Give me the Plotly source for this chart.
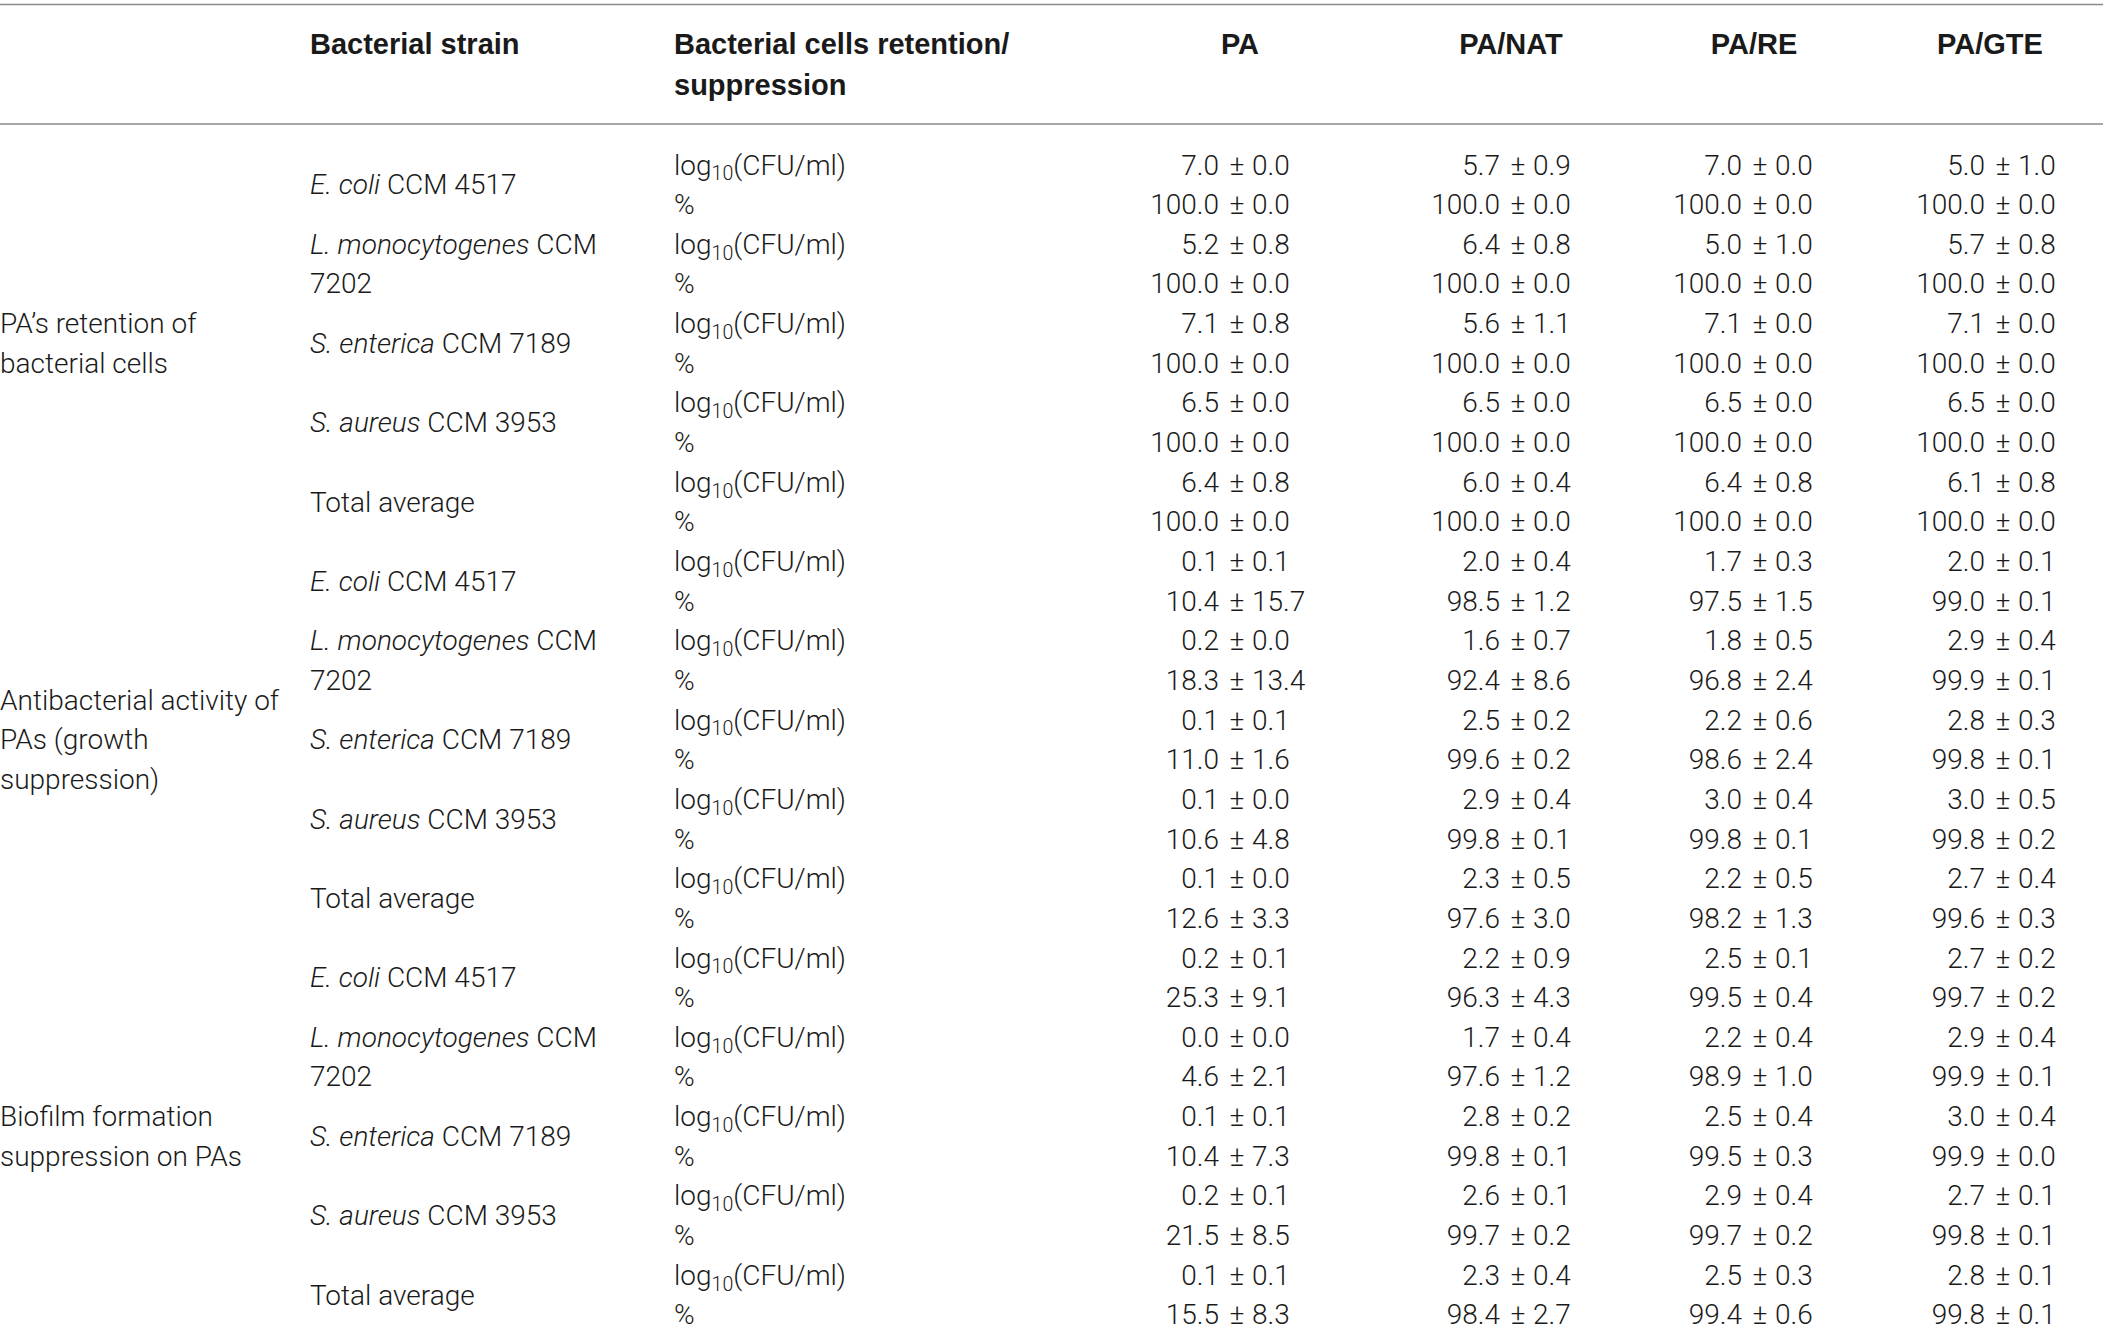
import plotly.graph_objects as go

# ---------------- data ----------------
columns = ["PA", "PA/NAT", "PA/RE", "PA/GTE"]
header_strain = "Bacterial strain"
header_unit = "Bacterial cells retention/\nsuppression"

groups = [
    "PA’s retention of\nbacterial cells",
    "Antibacterial activity of\nPAs (growth\nsuppression)",
    "Biofilm formation\nsuppression on PAs",
]
strains = [
    "<i>E. coli</i> CCM 4517",
    "<i>L. monocytogenes</i> CCM\n7202",
    "<i>S. enterica</i> CCM 7189",
    "<i>S. aureus</i> CCM 3953",
    "Total average",
]
units = ["log<sub>10</sub>(CFU/ml)", "%"]

pa_mean = [7.0, 100.0, 5.2, 100.0, 7.1, 100.0, 6.5, 100.0, 6.4, 100.0,
           0.1, 10.4, 0.2, 18.3, 0.1, 11.0, 0.1, 10.6, 0.1, 12.6,
           0.2, 25.3, 0.0, 4.6, 0.1, 10.4, 0.2, 21.5, 0.1, 15.5]
pa_sd = [0.0, 0.0, 0.8, 0.0, 0.8, 0.0, 0.0, 0.0, 0.8, 0.0,
         0.1, 15.7, 0.0, 13.4, 0.1, 1.6, 0.0, 4.8, 0.0, 3.3,
         0.1, 9.1, 0.0, 2.1, 0.1, 7.3, 0.1, 8.5, 0.1, 8.3]

nat_mean = [5.7, 100.0, 6.4, 100.0, 5.6, 100.0, 6.5, 100.0, 6.0, 100.0,
            2.0, 98.5, 1.6, 92.4, 2.5, 99.6, 2.9, 99.8, 2.3, 97.6,
            2.2, 96.3, 1.7, 97.6, 2.8, 99.8, 2.6, 99.7, 2.3, 98.4]
nat_sd = [0.9, 0.0, 0.8, 0.0, 1.1, 0.0, 0.0, 0.0, 0.4, 0.0,
          0.4, 1.2, 0.7, 8.6, 0.2, 0.2, 0.4, 0.1, 0.5, 3.0,
          0.9, 4.3, 0.4, 1.2, 0.2, 0.1, 0.1, 0.2, 0.4, 2.7]

re_mean = [7.0, 100.0, 5.0, 100.0, 7.1, 100.0, 6.5, 100.0, 6.4, 100.0,
           1.7, 97.5, 1.8, 96.8, 2.2, 98.6, 3.0, 99.8, 2.2, 98.2,
           2.5, 99.5, 2.2, 98.9, 2.5, 99.5, 2.9, 99.7, 2.5, 99.4]
re_sd = [0.0, 0.0, 1.0, 0.0, 0.0, 0.0, 0.0, 0.0, 0.8, 0.0,
         0.3, 1.5, 0.5, 2.4, 0.6, 2.4, 0.4, 0.1, 0.5, 1.3,
         0.1, 0.4, 0.4, 1.0, 0.4, 0.3, 0.4, 0.2, 0.3, 0.6]

gte_mean = [5.0, 100.0, 5.7, 100.0, 7.1, 100.0, 6.5, 100.0, 6.1, 100.0,
            2.0, 99.0, 2.9, 99.9, 2.8, 99.8, 3.0, 99.8, 2.7, 99.6,
            2.7, 99.7, 2.9, 99.9, 3.0, 99.9, 2.7, 99.8, 2.8, 99.8]
gte_sd = [1.0, 0.0, 0.8, 0.0, 0.0, 0.0, 0.0, 0.0, 0.8, 0.0,
          0.1, 0.1, 0.4, 0.1, 0.3, 0.1, 0.5, 0.2, 0.4, 0.3,
          0.2, 0.2, 0.4, 0.1, 0.4, 0.0, 0.1, 0.1, 0.1, 0.1]

col_means = [pa_mean, nat_mean, re_mean, gte_mean]
col_sds = [pa_sd, nat_sd, re_sd, gte_sd]

# ---------------- layout constants ----------------
W, H = 2103, 1342
FONT = "Roboto, 'Liberation Sans', sans-serif"
HFONT = "'Liberation Sans', Arial, sans-serif"
FS = 28
HFS = 29
COLOR = "#1a1a1a"
ROW0 = 167.5
STEP = 39.65
X_GROUP = 0
X_STRAIN = 310
X_UNIT = 674
PM_X = [1237, 1518, 1760, 2003]   # centre of the ± sign in each column
HEAD_X = [1240, 1511, 1754, 1990]  # centre of each column header
PM_GAP_L = 18
PM_GAP_R = 15
HEAD_Y = 47
HEAD_STEP = 41

n_rows = len(pa_mean)
rows_per_group = 2 * len(strains)


def row_y(r):
    return ROW0 + r * STEP


fig = go.Figure()


def add_text(xs, ys, texts, pos, bold=False):
    fig.add_trace(go.Scatter(
        x=xs, y=ys, text=texts, mode="text", textposition=pos,
        textfont=dict(family=HFONT if bold else FONT,
                      size=HFS if bold else FS, color=COLOR,
                      weight=700 if bold else 300),
        hoverinfo="skip", showlegend=False,
    ))


# group labels (centred vertically on the group)
gx, gy, gt = [], [], []
for g, label in enumerate(groups):
    lines = label.split("\n")
    centre = g * rows_per_group + (rows_per_group - 1) / 2
    for k, ln in enumerate(lines):
        gx.append(X_GROUP)
        gy.append(row_y(centre + k - (len(lines) - 1) / 2))
        gt.append(ln)
add_text(gx, gy, gt, "middle right")

# strain labels
sx, sy, st = [], [], []
for g in range(len(groups)):
    for s, label in enumerate(strains):
        lines = label.split("\n")
        centre = g * rows_per_group + 2 * s + 0.5
        for k, ln in enumerate(lines):
            sx.append(X_STRAIN)
            sy.append(row_y(centre + k - (len(lines) - 1) / 2))
            st.append(ln)
add_text(sx, sy, st, "middle right")

# unit labels
ux, uy, ut = [], [], []
for r in range(n_rows):
    ux.append(X_UNIT)
    uy.append(row_y(r))
    ut.append(units[r % 2])
add_text(ux, uy, ut, "middle right")

# values, aligned on the ± sign
for c in range(len(columns)):
    ys = [row_y(r) for r in range(n_rows)]
    add_text([PM_X[c] - PM_GAP_L] * n_rows, ys,
             [f"{v:.1f}" for v in col_means[c]], "middle left")
    add_text([PM_X[c]] * n_rows, ys, ["±"] * n_rows, "middle center")
    add_text([PM_X[c] + PM_GAP_R] * n_rows, ys,
             [f"{v:.1f}" for v in col_sds[c]], "middle right")

# header
hx, hy, ht = [X_STRAIN], [HEAD_Y], [header_strain]
for k, ln in enumerate(header_unit.split("\n")):
    hx.append(X_UNIT)
    hy.append(HEAD_Y + k * HEAD_STEP)
    ht.append(ln)
add_text(hx, hy, ht, "middle right", bold=True)
add_text(HEAD_X, [HEAD_Y] * len(columns), columns, "middle center", bold=True)

# rules
for yv in (4.5, 124):
    fig.add_shape(type="line", xref="paper", x0=0, x1=1, y0=yv, y1=yv,
                  line=dict(color="#8a8a8a", width=1.6))

fig.update_layout(
    width=W, height=H,
    margin=dict(l=0, r=0, t=0, b=0),
    paper_bgcolor="white", plot_bgcolor="white",
    xaxis=dict(range=[0, W], visible=False, fixedrange=True),
    yaxis=dict(range=[H, 0], visible=False, fixedrange=True),
)

fig.write_html("out.html", config={"displayModeBar": False},
               post_script="document.body.style.margin='0';")
